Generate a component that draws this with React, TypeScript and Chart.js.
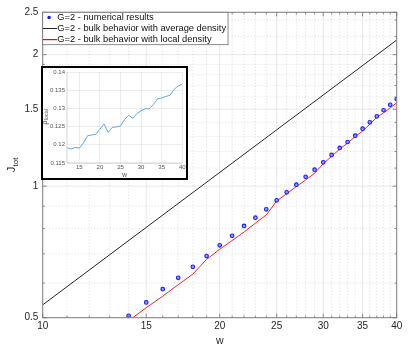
import React, { useEffect, useRef } from 'react';
import { Chart, registerables } from 'chart.js';

Chart.register(...registerables);

const FONT = '"Liberation Sans", Arial, Helvetica, sans-serif';

// ---- main chart data ----
const wNumerical = [14, 15, 16, 17, 18, 19, 20, 21, 22, 23, 24, 25, 26, 27, 28, 29, 30, 31, 32, 33, 34, 35, 36, 37, 38, 39, 40];
const jNumerical = [0.505, 0.542, 0.581, 0.617, 0.654, 0.692, 0.732, 0.770, 0.811, 0.847, 0.885, 0.928, 0.968, 1.008, 1.051, 1.091, 1.134, 1.179, 1.223, 1.262, 1.305, 1.354, 1.400, 1.445, 1.492, 1.536, 1.583];

const wAverage = [10, 40];
const jAverage = [0.535, 2.16];

const wLocalBulk = [14, 15, 16, 17, 18, 19, 20, 21, 22, 23, 24, 25, 26, 27, 28, 29, 30, 31, 32, 33, 34, 35, 36, 37, 38, 39, 40];
const jLocalBulk = [0.492, 0.527, 0.560, 0.595, 0.629, 0.680, 0.717, 0.751, 0.785, 0.823, 0.859, 0.925, 0.961, 0.998, 1.033, 1.070, 1.126, 1.170, 1.216, 1.255, 1.298, 1.337, 1.385, 1.437, 1.471, 1.512, 1.550];

const seriesLabels = [
  'G=2 - numerical results',
  'G=2 - bulk behavior with average density',
  'G=2 - bulk behavior with local density',
];
const seriesColors = ['#1a1aff', '#262626', '#ff2020'];

const xTicks = [10, 15, 20, 25, 30, 35, 40];
const xMinor = [11, 12, 13, 14, 16, 17, 18, 19, 21, 22, 23, 24, 26, 27, 28, 29, 31, 32, 33, 34, 36, 37, 38, 39];
const yTicks = [0.5, 1, 1.5, 2, 2.5];
const yMinor = [0.6, 0.7, 0.8, 0.9, 1.1, 1.2, 1.3, 1.4, 1.6, 1.7, 1.8, 1.9, 2.2, 2.4];

// ---- inset data ----
const wInset = [12, 13, 14, 15, 16, 17, 18, 19, 20, 21, 22, 23, 24, 25, 26, 27, 28, 29, 30, 31, 32, 33, 34, 35, 36, 37, 38, 39, 40];
const rhoLocal = [0.1192, 0.1188, 0.1193, 0.1191, 0.1205, 0.1225, 0.1227, 0.1229, 0.1243, 0.1257, 0.1234, 0.1248, 0.1249, 0.1252, 0.1270, 0.1281, 0.1273, 0.1286, 0.1294, 0.1299, 0.1299, 0.1311, 0.1326, 0.1329, 0.1333, 0.1336, 0.1352, 0.1362, 0.1366];
const insetXTicks = [15, 20, 25, 30, 35, 40];
const insetYTicks = [0.115, 0.12, 0.125, 0.13, 0.135, 0.14];

const toPoints = (xs: number[], ys: number[]) => xs.map((x, i) => ({ x, y: ys[i] }));

const mainDecor = {
  id: 'mainDecor',
  beforeDatasetsDraw(chart: any) {
    const { ctx, chartArea: a, scales } = chart;
    const sx = scales.x;
    const sy = scales.y;
    ctx.save();
    ctx.lineWidth = 0.7;
    ctx.strokeStyle = 'rgba(0,0,0,0.17)';
    ctx.setLineDash([1.2, 2]);
    xMinor.forEach((v) => {
      const p = sx.getPixelForValue(v);
      ctx.beginPath(); ctx.moveTo(p, a.top); ctx.lineTo(p, a.bottom); ctx.stroke();
    });
    yMinor.forEach((v) => {
      const p = sy.getPixelForValue(v);
      ctx.beginPath(); ctx.moveTo(a.left, p); ctx.lineTo(a.right, p); ctx.stroke();
    });
    ctx.setLineDash([]);
    ctx.strokeStyle = 'rgba(0,0,0,0.09)';
    ctx.lineWidth = 1;
    xTicks.forEach((v) => {
      const p = sx.getPixelForValue(v);
      ctx.beginPath(); ctx.moveTo(p, a.top); ctx.lineTo(p, a.bottom); ctx.stroke();
    });
    yTicks.forEach((v) => {
      const p = sy.getPixelForValue(v);
      ctx.beginPath(); ctx.moveTo(a.left, p); ctx.lineTo(a.right, p); ctx.stroke();
    });
    ctx.restore();
  },
  afterDatasetsDraw(chart: any) {
    const { ctx, chartArea: a, scales } = chart;
    const sx = scales.x;
    const sy = scales.y;
    ctx.save();
    ctx.strokeStyle = '#808080';
    ctx.lineWidth = 1;
    ctx.strokeRect(a.left, a.top, a.right - a.left, a.bottom - a.top);
    const tick = (x1: number, y1: number, x2: number, y2: number) => {
      ctx.beginPath(); ctx.moveTo(x1, y1); ctx.lineTo(x2, y2); ctx.stroke();
    };
    ctx.strokeStyle = '#707070';
    ctx.lineWidth = 0.8;
    xTicks.forEach((v) => {
      const p = sx.getPixelForValue(v);
      tick(p, a.bottom, p, a.bottom - 4); tick(p, a.top, p, a.top + 4);
    });
    xMinor.forEach((v) => {
      const p = sx.getPixelForValue(v);
      tick(p, a.bottom, p, a.bottom - 2.2); tick(p, a.top, p, a.top + 2.2);
    });
    yTicks.forEach((v) => {
      const p = sy.getPixelForValue(v);
      tick(a.left, p, a.left + 4, p); tick(a.right, p, a.right - 4, p);
    });
    yMinor.forEach((v) => {
      const p = sy.getPixelForValue(v);
      tick(a.left, p, a.left + 2.2, p); tick(a.right, p, a.right - 2.2, p);
    });

    // legend
    ctx.font = `9.3px ${FONT}`;
    const textX = a.left + 14.6;
    let maxW = 0;
    seriesLabels.forEach((t) => { maxW = Math.max(maxW, ctx.measureText(t).width); });
    const lx = a.left;
    const ly = a.top;
    const lw = textX + maxW + 2 - lx;
    const lh = 32.4;
    ctx.fillStyle = '#ffffff';
    ctx.fillRect(lx, ly, lw, lh);
    ctx.strokeStyle = '#6e6e6e';
    ctx.lineWidth = 0.8;
    ctx.strokeRect(lx, ly, lw, lh);

    // entry 1: marker
    ctx.fillStyle = seriesColors[0];
    ctx.beginPath(); ctx.arc(lx + 6.4, 17.5, 1.8, 0, Math.PI * 2); ctx.fill();
    // entry 2: black line
    ctx.fillStyle = 'rgb(38,38,38)';
    ctx.fillRect(43, 28, 14, 1);
    // entry 3: red line
    ctx.fillStyle = 'rgb(255,0,0)';
    ctx.fillRect(43, 39, 14, 1.2);

    ctx.fillStyle = '#111';
    ctx.textAlign = 'left';
    ctx.textBaseline = 'middle';
    ctx.fillText(seriesLabels[0], textX, 17.9);
    ctx.fillText(seriesLabels[1], textX, 28.9);
    ctx.fillText(seriesLabels[2], textX, 39.9);

    // axis titles
    ctx.fillStyle = '#262626';
    ctx.font = `10.5px ${FONT}`;
    ctx.textAlign = 'center';
    ctx.textBaseline = 'middle';
    ctx.fillText('w', (a.left + a.right) / 2, 341.5);

    ctx.save();
    ctx.translate(0, (a.top + a.bottom) / 2);
    ctx.rotate(-Math.PI / 2);
    ctx.font = `11px ${FONT}`;
    const jw = ctx.measureText('J').width;
    ctx.font = `8px ${FONT}`;
    const tw = ctx.measureText('tot').width;
    const start = -(jw + tw) / 2;
    ctx.textAlign = 'left';
    ctx.textBaseline = 'alphabetic';
    ctx.font = `11px ${FONT}`;
    ctx.fillText('J', start, 15);
    ctx.font = `8px ${FONT}`;
    ctx.fillText('tot', start + jw + 0.3, 17.5);
    ctx.restore();

    ctx.restore();
  },
};

const insetDecor = {
  id: 'insetDecor',
  beforeDraw(chart: any) {
    const { ctx, width, height } = chart;
    ctx.save();
    ctx.fillStyle = '#ffffff';
    ctx.fillRect(0, 0, width, height);
    ctx.restore();
  },
  afterDraw(chart: any) {
    const { ctx, chartArea: a, width, height } = chart;
    ctx.save();
    ctx.strokeStyle = '#c8c8c8';
    ctx.lineWidth = 0.8;
    ctx.beginPath();
    ctx.moveTo(a.left, a.top); ctx.lineTo(a.left, a.bottom); ctx.lineTo(a.right, a.bottom);
    ctx.stroke();
    ctx.strokeStyle = '#000';
    ctx.lineWidth = 2;
    ctx.strokeRect(1, 1, width - 2, height - 2);
    ctx.fillStyle = '#555';
    ctx.font = `6.5px ${FONT}`;
    ctx.textAlign = 'center';
    ctx.textBaseline = 'middle';
    ctx.fillText('w', (a.left + a.right) / 2, 109);
    ctx.save();
    ctx.translate(0, 51);
    ctx.rotate(-Math.PI / 2);
    ctx.font = `7.5px ${FONT}`;
    const rw = ctx.measureText('ρ').width;
    ctx.font = `5.5px ${FONT}`;
    const lw = ctx.measureText('local').width;
    const s = -(rw + lw) / 2;
    ctx.textAlign = 'left';
    ctx.textBaseline = 'alphabetic';
    ctx.font = `7.5px ${FONT}`;
    ctx.fillText('ρ', s, 5.8);
    ctx.font = `5.5px ${FONT}`;
    ctx.fillText('local', s + rw + 0.3, 7.3);
    ctx.restore();
    ctx.restore();
  },
};

export default function App() {
  const mainRef = useRef<HTMLCanvasElement>(null);
  const insetRef = useRef<HTMLCanvasElement>(null);

  useEffect(() => {
    const main = new Chart(mainRef.current as HTMLCanvasElement, {
      type: 'line',
      data: {
        datasets: [
          {
            label: seriesLabels[0],
            data: toPoints(wNumerical, jNumerical),
            showLine: false,
            pointRadius: 1.8,
            pointBorderWidth: 1.1,
            pointBorderColor: seriesColors[0],
            pointBackgroundColor: '#9a9aff',
            borderColor: seriesColors[0],
          },
          {
            label: seriesLabels[1],
            data: toPoints(wAverage, jAverage),
            borderColor: seriesColors[1],
            borderWidth: 1,
            pointRadius: 0,
            fill: false,
          },
          {
            label: seriesLabels[2],
            data: toPoints(wLocalBulk, jLocalBulk),
            borderColor: seriesColors[2],
            borderWidth: 1,
            pointRadius: 0,
            fill: false,
          },
        ],
      },
      options: {
        responsive: false,
        animation: false,
        devicePixelRatio: 1,
        layout: { padding: { top: 12.3, right: 18.3, left: 0, bottom: 0 } },
        plugins: { legend: { display: false }, tooltip: { enabled: false }, title: { display: false } },
        scales: {
          x: {
            type: 'logarithmic',
            min: 10,
            max: 40,
            afterBuildTicks: (s: any) => { s.ticks = xTicks.map((v) => ({ value: v })); },
            afterFit: (s: any) => { s.height = 29.3; },
            grid: { display: false, drawTicks: false },
            border: { display: false },
            ticks: {
              autoSkip: false,
              maxRotation: 0,
              padding: 2.5,
              color: '#262626',
              font: { size: 10, family: FONT },
              callback: (v: any) => String(v),
            },
          },
          y: {
            type: 'logarithmic',
            min: 0.5,
            max: 2.5,
            afterBuildTicks: (s: any) => { s.ticks = yTicks.map((v) => ({ value: v })); },
            afterFit: (s: any) => { s.width = 42.7; },
            grid: { display: false, drawTicks: false },
            border: { display: false },
            ticks: {
              autoSkip: false,
              padding: 4.3,
              color: '#262626',
              font: { size: 10, family: FONT },
              callback: (v: any) => String(v),
            },
          },
        },
      } as any,
      plugins: [mainDecor],
    });

    const inset = new Chart(insetRef.current as HTMLCanvasElement, {
      type: 'line',
      data: {
        datasets: [
          {
            label: 'rho_local',
            data: toPoints(wInset, rhoLocal),
            borderColor: '#5ea9e2',
            borderWidth: 1,
            pointRadius: 0,
            fill: false,
          },
        ],
      },
      options: {
        responsive: false,
        animation: false,
        devicePixelRatio: 1,
        layout: { padding: { top: 6, right: 5.7, left: 0, bottom: 0 } },
        plugins: { legend: { display: false }, tooltip: { enabled: false } },
        scales: {
          x: {
            type: 'linear',
            min: 12,
            max: 40,
            afterBuildTicks: (s: any) => { s.ticks = insetXTicks.map((v) => ({ value: v })); },
            afterFit: (s: any) => { s.height = 17; },
            grid: { color: 'rgba(0,0,0,0.07)', drawTicks: false },
            border: { display: false },
            ticks: {
              autoSkip: false,
              maxRotation: 0,
              padding: 0.5,
              color: '#555',
              font: { size: 6, family: FONT },
              callback: (v: any) => String(v),
            },
          },
          y: {
            type: 'linear',
            min: 0.115,
            max: 0.14,
            afterBuildTicks: (s: any) => { s.ticks = insetYTicks.map((v) => ({ value: v })); },
            afterFit: (s: any) => { s.width = 26; },
            grid: { color: 'rgba(0,0,0,0.07)', drawTicks: false },
            border: { display: false },
            ticks: {
              autoSkip: false,
              padding: 2,
              color: '#555',
              font: { size: 6, family: FONT },
              callback: (v: any) => String(Number(Number(v).toFixed(3))),
            },
          },
        },
      } as any,
      plugins: [insetDecor],
    });

    return () => {
      main.destroy();
      inset.destroy();
    };
  }, []);

  return (
    <div style={{ position: 'absolute', left: 0, top: 0, width: 415, height: 347, background: '#fff' }}>
      <canvas ref={mainRef} width={415} height={347} style={{ position: 'absolute', left: 0, top: 0, display: 'block' }} />
      <canvas ref={insetRef} width={147} height={114} style={{ position: 'absolute', left: 41, top: 66, display: 'block' }} />
    </div>
  );
}
